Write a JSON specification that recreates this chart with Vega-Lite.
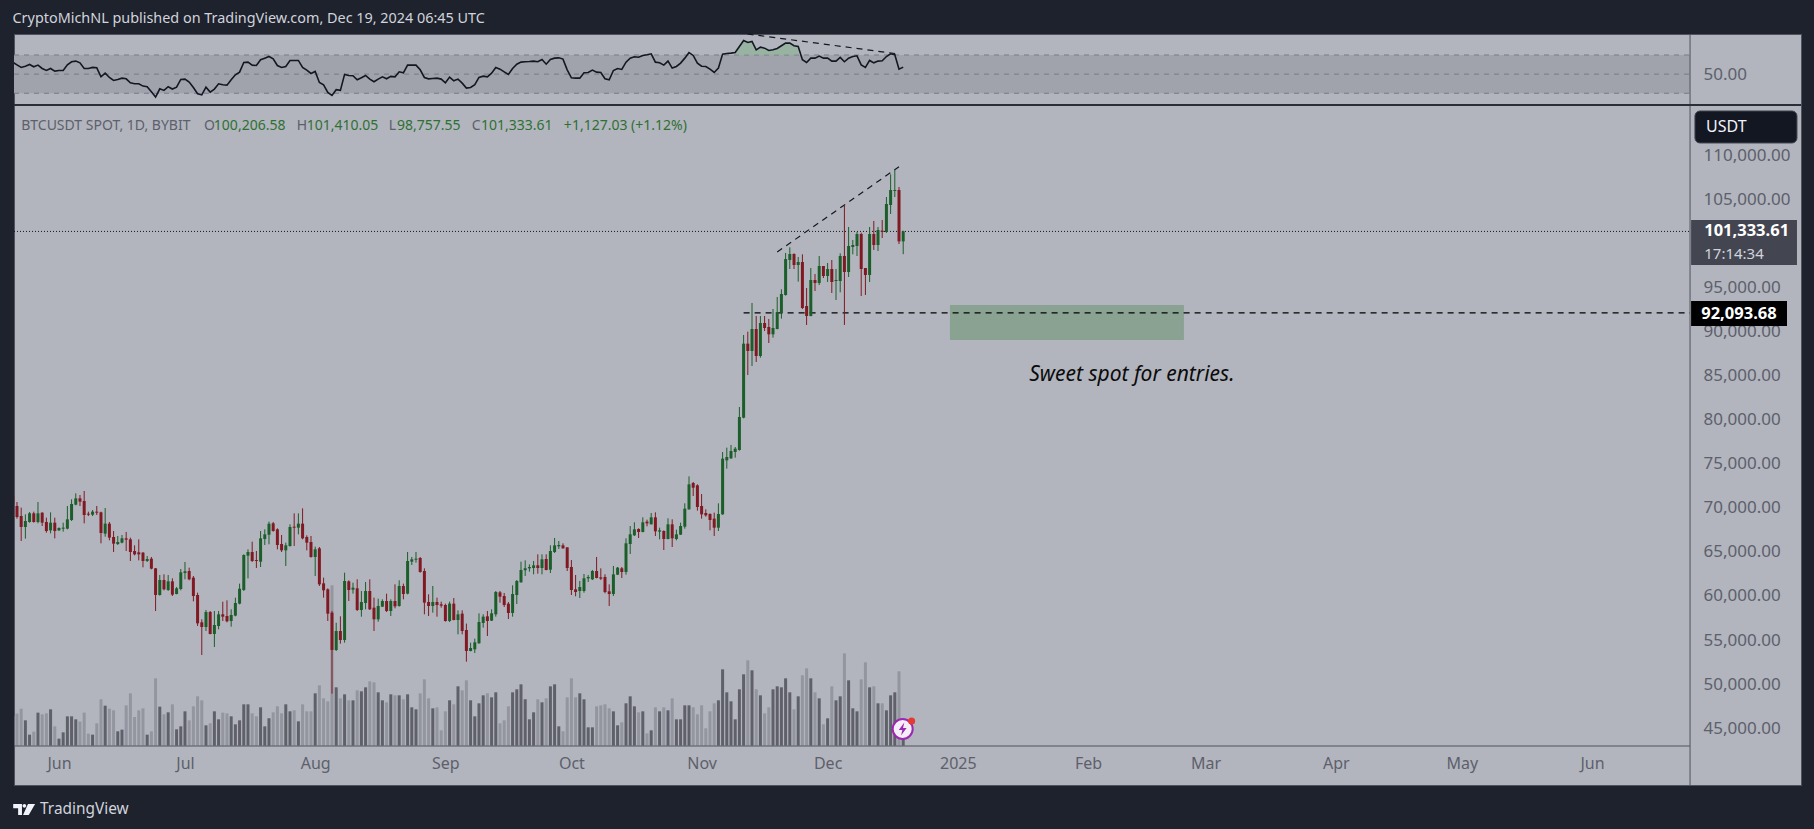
{
"$schema":"https://vega.github.io/schema/vega-lite/v6.json",
"background":"#1e222d",
"padding":{"left":12,"right":15,"top":10,"bottom":17},
"title":{"text":"CryptoMichNL published on TradingView.com, Dec 19, 2024 06:45 UTC","anchor":"start","color":"#d1d4dc","font":"Noto Sans","fontSize":14.4,"fontWeight":"normal","offset":7},
"spacing":-3,
"config":{"view":{"fill":"#b2b5be","stroke":"#50535e"},"text":{"font":"Noto Sans"},"axis":{"labelFont":"Noto Sans","labelFontSize":17,"labelColor":"#5d606b","domain":false,"ticks":false,"grid":false,"title":null}},
"datasets":{"candles":[
{"d":"2024-05-21","o":71337,"h":71526,"l":70393,"c":70393,"v":90,"r":62.5},
{"d":"2024-05-22","o":70204,"h":70657,"l":68768,"c":68957,"v":96,"r":59.7},
{"d":"2024-05-23","o":69070,"h":70015,"l":66236,"c":67823,"v":111,"r":57.0},
{"d":"2024-05-24","o":67823,"h":69259,"l":66501,"c":68503,"v":76,"r":58.3},
{"d":"2024-05-25","o":68390,"h":69524,"l":68314,"c":69372,"v":33,"r":60.1},
{"d":"2024-05-26","o":69372,"h":69561,"l":68314,"c":68390,"v":42,"r":57.7},
{"d":"2024-05-27","o":68390,"h":70657,"l":68238,"c":69372,"v":99,"r":59.4},
{"d":"2024-05-28","o":69448,"h":69486,"l":67936,"c":68314,"v":94,"r":55.9},
{"d":"2024-05-29","o":68390,"h":68881,"l":67180,"c":67369,"v":97,"r":53.8},
{"d":"2024-05-30","o":67445,"h":69486,"l":67104,"c":68314,"v":109,"r":55.9},
{"d":"2024-05-31","o":68314,"h":68881,"l":66538,"c":67369,"v":58,"r":53.1},
{"d":"2024-06-01","o":67445,"h":67785,"l":67369,"c":67709,"v":21,"r":53.8},
{"d":"2024-06-02","o":67634,"h":68314,"l":67293,"c":67747,"v":40,"r":53.8},
{"d":"2024-06-03","o":67634,"h":70204,"l":67558,"c":68692,"v":88,"r":59.7},
{"d":"2024-06-04","o":68617,"h":70959,"l":68503,"c":70431,"v":88,"r":62.9},
{"d":"2024-06-05","o":70355,"h":71639,"l":70280,"c":71072,"v":79,"r":63.6},
{"d":"2024-06-06","o":71072,"h":71450,"l":70204,"c":70694,"v":72,"r":61.8},
{"d":"2024-06-07","o":70770,"h":71904,"l":68238,"c":69183,"v":99,"r":55.9},
{"d":"2024-06-08","o":69335,"h":69561,"l":69070,"c":69221,"v":36,"r":55.9},
{"d":"2024-06-09","o":69221,"h":69750,"l":69070,"c":69561,"v":33,"r":57.0},
{"d":"2024-06-10","o":69561,"h":70204,"l":69183,"c":69448,"v":67,"r":56.6},
{"d":"2024-06-11","o":69486,"h":69561,"l":65971,"c":67142,"v":139,"r":47.2},
{"d":"2024-06-12","o":67066,"h":69977,"l":66727,"c":68201,"v":120,"r":51.0},
{"d":"2024-06-13","o":68201,"h":68390,"l":66312,"c":66614,"v":111,"r":46.5},
{"d":"2024-06-14","o":66690,"h":67369,"l":64989,"c":65934,"v":106,"r":43.4},
{"d":"2024-06-15","o":65896,"h":66803,"l":65782,"c":66123,"v":43,"r":44.4},
{"d":"2024-06-16","o":66047,"h":66916,"l":65971,"c":66538,"v":48,"r":45.8},
{"d":"2024-06-17","o":66538,"h":67256,"l":65102,"c":66387,"v":121,"r":45.1},
{"d":"2024-06-18","o":66425,"h":66614,"l":63968,"c":64989,"v":157,"r":41.0},
{"d":"2024-06-19","o":65102,"h":65745,"l":64611,"c":64724,"v":86,"r":39.9},
{"d":"2024-06-20","o":64951,"h":66425,"l":64044,"c":64724,"v":106,"r":39.9},
{"d":"2024-06-21","o":64913,"h":64989,"l":63251,"c":63968,"v":112,"r":37.5},
{"d":"2024-06-22","o":63968,"h":64535,"l":63854,"c":64195,"v":33,"r":36.8},
{"d":"2024-06-23","o":64233,"h":64422,"l":63024,"c":63100,"v":43,"r":31.6},
{"d":"2024-06-24","o":63137,"h":63175,"l":58300,"c":60113,"v":202,"r":26.0},
{"d":"2024-06-25","o":60113,"h":62381,"l":60037,"c":61814,"v":117,"r":34.7},
{"d":"2024-06-26","o":61814,"h":62457,"l":60643,"c":60756,"v":94,"r":33.0},
{"d":"2024-06-27","o":60680,"h":62381,"l":60567,"c":61663,"v":100,"r":36.8},
{"d":"2024-06-28","o":61663,"h":62003,"l":60000,"c":60151,"v":124,"r":34.4},
{"d":"2024-06-29","o":60227,"h":61021,"l":60189,"c":60870,"v":49,"r":36.4},
{"d":"2024-06-30","o":60794,"h":63062,"l":60643,"c":62684,"v":58,"r":44.4},
{"d":"2024-07-01","o":62608,"h":63856,"l":61890,"c":62797,"v":103,"r":44.8},
{"d":"2024-07-02","o":62835,"h":63213,"l":61777,"c":61890,"v":76,"r":41.7},
{"d":"2024-07-03","o":62079,"h":62268,"l":59396,"c":60000,"v":118,"r":36.1},
{"d":"2024-07-04","o":60113,"h":60378,"l":56599,"c":56901,"v":148,"r":29.5},
{"d":"2024-07-05","o":57015,"h":57355,"l":53311,"c":56485,"v":136,"r":28.4},
{"d":"2024-07-06","o":56485,"h":58413,"l":56032,"c":58187,"v":61,"r":36.4},
{"d":"2024-07-07","o":58187,"h":58300,"l":55655,"c":55693,"v":67,"r":31.2},
{"d":"2024-07-08","o":55693,"h":58300,"l":54219,"c":56712,"v":103,"r":34.4},
{"d":"2024-07-09","o":56599,"h":58300,"l":56221,"c":57922,"v":79,"r":39.9},
{"d":"2024-07-10","o":57922,"h":59358,"l":57166,"c":57657,"v":99,"r":38.9},
{"d":"2024-07-11","o":57733,"h":59510,"l":57015,"c":57128,"v":97,"r":38.5},
{"d":"2024-07-12","o":57166,"h":58489,"l":56523,"c":57846,"v":88,"r":44.1},
{"d":"2024-07-13","o":57771,"h":59812,"l":57695,"c":59207,"v":64,"r":49.3},
{"d":"2024-07-14","o":59132,"h":61399,"l":59056,"c":60832,"v":76,"r":52.1},
{"d":"2024-07-15","o":60680,"h":64724,"l":60567,"c":64649,"v":124,"r":62.2},
{"d":"2024-07-16","o":64573,"h":65291,"l":62003,"c":64989,"v":124,"r":62.5},
{"d":"2024-07-17","o":64989,"h":66160,"l":63854,"c":63968,"v":97,"r":59.4},
{"d":"2024-07-18","o":64082,"h":65102,"l":63175,"c":63968,"v":88,"r":59.0},
{"d":"2024-07-19","o":63892,"h":67369,"l":63289,"c":66538,"v":115,"r":65.0},
{"d":"2024-07-20","o":66463,"h":67558,"l":65782,"c":66992,"v":58,"r":66.7},
{"d":"2024-07-21","o":66954,"h":68428,"l":65858,"c":68201,"v":82,"r":68.4},
{"d":"2024-07-22","o":68238,"h":68390,"l":67293,"c":67369,"v":100,"r":66.0},
{"d":"2024-07-23","o":67558,"h":67671,"l":65291,"c":65782,"v":118,"r":59.0},
{"d":"2024-07-24","o":65896,"h":66916,"l":64989,"c":65178,"v":97,"r":57.0},
{"d":"2024-07-25","o":65178,"h":66047,"l":63402,"c":65745,"v":124,"r":58.0},
{"d":"2024-07-26","o":65669,"h":68125,"l":65593,"c":67823,"v":103,"r":64.3},
{"d":"2024-07-27","o":67860,"h":69372,"l":65669,"c":67747,"v":106,"r":64.3},
{"d":"2024-07-28","o":67747,"h":69372,"l":66992,"c":68201,"v":73,"r":64.3},
{"d":"2024-07-29","o":68201,"h":69939,"l":66425,"c":66538,"v":124,"r":57.0},
{"d":"2024-07-30","o":66690,"h":66879,"l":65178,"c":66047,"v":103,"r":54.2},
{"d":"2024-07-31","o":66123,"h":66803,"l":64346,"c":64422,"v":103,"r":50.7},
{"d":"2024-08-01","o":64422,"h":65593,"l":62268,"c":65291,"v":157,"r":52.8},
{"d":"2024-08-02","o":65404,"h":65556,"l":61134,"c":61323,"v":181,"r":41.3},
{"d":"2024-08-03","o":61436,"h":62079,"l":59812,"c":60643,"v":142,"r":38.9},
{"d":"2024-08-04","o":60756,"h":60870,"l":57166,"c":57998,"v":133,"r":30.9},
{"d":"2024-08-05","o":58111,"h":58300,"l":48928,"c":53878,"v":481,"r":27.8},
{"d":"2024-08-06","o":53878,"h":56977,"l":53765,"c":56033,"v":175,"r":33.7},
{"d":"2024-08-07","o":56033,"h":57695,"l":54597,"c":55012,"v":142,"r":33.0},
{"d":"2024-08-08","o":55012,"h":62646,"l":54710,"c":61701,"v":154,"r":49.7},
{"d":"2024-08-09","o":61663,"h":61777,"l":59434,"c":60680,"v":136,"r":48.6},
{"d":"2024-08-10","o":60718,"h":61512,"l":60265,"c":60945,"v":136,"r":48.3},
{"d":"2024-08-11","o":60870,"h":61890,"l":58300,"c":58413,"v":166,"r":44.1},
{"d":"2024-08-12","o":58413,"h":60567,"l":57657,"c":59321,"v":163,"r":46.2},
{"d":"2024-08-13","o":59207,"h":61588,"l":58489,"c":60567,"v":175,"r":48.6},
{"d":"2024-08-14","o":60567,"h":61890,"l":58413,"c":58489,"v":193,"r":44.8},
{"d":"2024-08-15","o":58678,"h":59812,"l":56033,"c":57355,"v":190,"r":42.0},
{"d":"2024-08-16","o":57355,"h":59698,"l":57090,"c":58867,"v":160,"r":44.8},
{"d":"2024-08-17","o":58791,"h":59623,"l":58754,"c":59434,"v":136,"r":47.2},
{"d":"2024-08-18","o":59434,"h":60265,"l":58187,"c":58300,"v":130,"r":45.1},
{"d":"2024-08-19","o":58300,"h":59623,"l":57733,"c":59434,"v":154,"r":47.6},
{"d":"2024-08-20","o":59434,"h":61323,"l":58602,"c":58829,"v":151,"r":47.2},
{"d":"2024-08-21","o":58867,"h":61777,"l":58791,"c":61134,"v":151,"r":52.4},
{"d":"2024-08-22","o":61134,"h":61399,"l":59623,"c":60227,"v":139,"r":51.4},
{"d":"2024-08-23","o":60265,"h":64989,"l":60189,"c":63968,"v":154,"r":59.4},
{"d":"2024-08-24","o":63892,"h":64422,"l":63516,"c":64157,"v":115,"r":59.4},
{"d":"2024-08-25","o":64119,"h":64989,"l":63772,"c":64233,"v":109,"r":59.4},
{"d":"2024-08-26","o":64309,"h":64422,"l":62646,"c":62722,"v":157,"r":54.5},
{"d":"2024-08-27","o":62835,"h":63137,"l":57922,"c":59245,"v":199,"r":46.5},
{"d":"2024-08-28","o":59321,"h":60189,"l":57733,"c":58867,"v":142,"r":45.1},
{"d":"2024-08-29","o":58867,"h":61134,"l":58111,"c":59321,"v":112,"r":45.5},
{"d":"2024-08-30","o":59321,"h":59812,"l":57657,"c":58980,"v":115,"r":45.8},
{"d":"2024-08-31","o":59056,"h":59358,"l":58678,"c":58905,"v":46,"r":44.8},
{"d":"2024-09-01","o":58980,"h":59132,"l":57090,"c":57166,"v":103,"r":41.0},
{"d":"2024-09-02","o":57166,"h":59358,"l":57053,"c":59132,"v":136,"r":46.9},
{"d":"2024-09-03","o":59132,"h":59774,"l":57242,"c":57279,"v":124,"r":43.0},
{"d":"2024-09-04","o":57279,"h":58376,"l":55655,"c":57922,"v":178,"r":44.8},
{"d":"2024-09-05","o":57998,"h":58376,"l":55655,"c":56033,"v":166,"r":40.6},
{"d":"2024-09-06","o":56146,"h":56872,"l":52555,"c":53765,"v":196,"r":35.4},
{"d":"2024-09-07","o":53765,"h":54710,"l":53727,"c":54105,"v":136,"r":36.1},
{"d":"2024-09-08","o":53954,"h":55164,"l":53538,"c":54748,"v":88,"r":38.9},
{"d":"2024-09-09","o":54634,"h":58036,"l":54597,"c":57053,"v":127,"r":46.5},
{"d":"2024-09-10","o":56940,"h":57922,"l":56411,"c":57657,"v":151,"r":47.9},
{"d":"2024-09-11","o":57695,"h":58300,"l":55466,"c":57166,"v":157,"r":47.2},
{"d":"2024-09-12","o":57204,"h":58489,"l":57166,"c":58036,"v":145,"r":51.0},
{"d":"2024-09-13","o":57922,"h":60567,"l":57657,"c":60454,"v":160,"r":57.0},
{"d":"2024-09-14","o":60416,"h":60567,"l":59245,"c":59925,"v":67,"r":55.2},
{"d":"2024-09-15","o":60000,"h":60340,"l":58754,"c":58980,"v":76,"r":52.4},
{"d":"2024-09-16","o":59132,"h":59321,"l":57393,"c":58073,"v":118,"r":49.7},
{"d":"2024-09-17","o":58073,"h":61210,"l":57657,"c":60227,"v":160,"r":55.9},
{"d":"2024-09-18","o":60113,"h":61814,"l":59094,"c":61701,"v":169,"r":60.4},
{"d":"2024-09-19","o":61550,"h":63892,"l":61512,"c":62948,"v":184,"r":62.5},
{"d":"2024-09-20","o":62911,"h":64044,"l":62268,"c":63137,"v":139,"r":62.9},
{"d":"2024-09-21","o":63137,"h":63590,"l":62760,"c":63289,"v":79,"r":63.2},
{"d":"2024-09-22","o":63175,"h":63968,"l":62457,"c":63478,"v":100,"r":63.6},
{"d":"2024-09-23","o":63478,"h":64724,"l":62533,"c":63175,"v":139,"r":62.9},
{"d":"2024-09-24","o":63175,"h":64724,"l":62457,"c":64157,"v":130,"r":65.3},
{"d":"2024-09-25","o":64195,"h":64724,"l":62911,"c":62948,"v":142,"r":60.4},
{"d":"2024-09-26","o":62986,"h":65745,"l":62608,"c":65102,"v":178,"r":65.3},
{"d":"2024-09-27","o":64989,"h":66576,"l":64875,"c":65745,"v":184,"r":66.7},
{"d":"2024-09-28","o":65631,"h":66236,"l":65329,"c":65782,"v":58,"r":67.0},
{"d":"2024-09-29","o":65745,"h":65971,"l":65367,"c":65404,"v":43,"r":65.7},
{"d":"2024-09-30","o":65518,"h":65518,"l":62835,"c":63175,"v":145,"r":54.5},
{"d":"2024-10-01","o":63289,"h":64082,"l":60113,"c":60680,"v":202,"r":46.2},
{"d":"2024-10-02","o":60756,"h":62381,"l":59963,"c":60454,"v":145,"r":45.8},
{"d":"2024-10-03","o":60567,"h":61701,"l":59774,"c":61021,"v":157,"r":45.8},
{"d":"2024-10-04","o":60567,"h":62495,"l":60378,"c":62003,"v":139,"r":51.4},
{"d":"2024-10-05","o":62003,"h":62381,"l":61588,"c":62154,"v":55,"r":51.7},
{"d":"2024-10-06","o":61890,"h":62948,"l":61814,"c":62835,"v":55,"r":54.2},
{"d":"2024-10-07","o":62835,"h":64422,"l":62003,"c":62041,"v":118,"r":52.1},
{"d":"2024-10-08","o":62117,"h":63137,"l":61814,"c":61966,"v":121,"r":51.7},
{"d":"2024-10-09","o":62154,"h":62457,"l":60302,"c":60454,"v":124,"r":45.1},
{"d":"2024-10-10","o":60529,"h":61323,"l":58867,"c":60227,"v":112,"r":44.1},
{"d":"2024-10-11","o":60227,"h":63402,"l":60000,"c":62457,"v":103,"r":53.8},
{"d":"2024-10-12","o":62419,"h":63289,"l":62381,"c":63213,"v":61,"r":55.9},
{"d":"2024-10-13","o":63137,"h":63289,"l":62041,"c":62722,"v":70,"r":54.9},
{"d":"2024-10-14","o":62722,"h":66538,"l":62419,"c":65971,"v":127,"r":62.5},
{"d":"2024-10-15","o":65896,"h":67936,"l":64762,"c":66992,"v":148,"r":66.7},
{"d":"2024-10-16","o":66879,"h":68352,"l":66803,"c":67558,"v":118,"r":68.1},
{"d":"2024-10-17","o":67596,"h":67671,"l":66576,"c":67256,"v":100,"r":67.7},
{"d":"2024-10-18","o":67256,"h":68919,"l":67218,"c":68352,"v":103,"r":69.5},
{"d":"2024-10-19","o":68428,"h":68655,"l":67898,"c":68238,"v":37,"r":70.2},
{"d":"2024-10-20","o":68125,"h":69410,"l":68125,"c":68919,"v":46,"r":71.2},
{"d":"2024-10-21","o":68919,"h":69486,"l":66803,"c":67331,"v":115,"r":62.5},
{"d":"2024-10-22","o":67293,"h":67747,"l":66425,"c":67445,"v":103,"r":61.8},
{"d":"2024-10-23","o":67369,"h":67445,"l":65215,"c":66463,"v":115,"r":59.4},
{"d":"2024-10-24","o":66463,"h":68806,"l":66425,"c":68125,"v":106,"r":63.6},
{"d":"2024-10-25","o":68125,"h":68692,"l":65556,"c":66538,"v":142,"r":56.3},
{"d":"2024-10-26","o":66463,"h":67520,"l":66312,"c":66992,"v":79,"r":58.0},
{"d":"2024-10-27","o":66954,"h":68314,"l":66916,"c":67936,"v":79,"r":61.5},
{"d":"2024-10-28","o":67860,"h":70506,"l":67634,"c":69902,"v":121,"r":66.7},
{"d":"2024-10-29","o":69826,"h":73567,"l":69788,"c":72660,"v":121,"r":72.6},
{"d":"2024-10-30","o":72811,"h":72925,"l":71337,"c":72282,"v":115,"r":69.5},
{"d":"2024-10-31","o":72547,"h":72660,"l":69675,"c":70091,"v":94,"r":61.5},
{"d":"2024-11-01","o":70204,"h":71564,"l":68768,"c":69259,"v":121,"r":58.3},
{"d":"2024-11-02","o":69410,"h":69826,"l":68994,"c":69145,"v":52,"r":58.0},
{"d":"2024-11-03","o":69297,"h":69372,"l":67445,"c":68617,"v":103,"r":55.2},
{"d":"2024-11-04","o":68768,"h":69448,"l":66803,"c":67747,"v":127,"r":51.7},
{"d":"2024-11-05","o":67747,"h":70506,"l":67369,"c":69297,"v":136,"r":56.3},
{"d":"2024-11-06","o":69259,"h":76327,"l":69200,"c":75571,"v":229,"r":70.9},
{"d":"2024-11-07","o":75382,"h":76818,"l":74437,"c":75760,"v":160,"r":71.6},
{"d":"2024-11-08","o":75610,"h":77121,"l":75533,"c":76440,"v":133,"r":71.9},
{"d":"2024-11-09","o":76327,"h":76894,"l":75685,"c":76705,"v":79,"r":72.6},
{"d":"2024-11-10","o":76553,"h":81428,"l":76478,"c":80295,"v":169,"r":78.9},
{"d":"2024-11-11","o":80219,"h":89591,"l":80144,"c":88609,"v":214,"r":85.1},
{"d":"2024-11-12","o":88611,"h":89971,"l":85058,"c":87779,"v":256,"r":83.0},
{"d":"2024-11-13","o":87779,"h":93221,"l":86079,"c":90274,"v":226,"r":84.1},
{"d":"2024-11-14","o":90274,"h":91747,"l":86533,"c":87213,"v":169,"r":75.4},
{"d":"2024-11-15","o":87213,"h":91747,"l":87024,"c":90954,"v":151,"r":78.2},
{"d":"2024-11-16","o":90954,"h":91747,"l":90047,"c":90387,"v":97,"r":77.1},
{"d":"2024-11-17","o":90500,"h":91407,"l":88686,"c":89669,"v":115,"r":74.7},
{"d":"2024-11-18","o":89669,"h":92541,"l":89291,"c":90387,"v":169,"r":75.4},
{"d":"2024-11-19","o":90274,"h":93901,"l":90236,"c":92201,"v":178,"r":76.8},
{"d":"2024-11-20","o":92087,"h":94771,"l":91445,"c":94242,"v":175,"r":79.6},
{"d":"2024-11-21","o":94128,"h":98890,"l":94052,"c":98210,"v":202,"r":82.4},
{"d":"2024-11-22","o":98096,"h":99532,"l":97076,"c":98776,"v":160,"r":82.4},
{"d":"2024-11-23","o":98776,"h":98852,"l":97076,"c":97529,"v":109,"r":79.6},
{"d":"2024-11-24","o":97529,"h":98436,"l":95640,"c":97869,"v":148,"r":78.9},
{"d":"2024-11-25","o":97869,"h":98738,"l":92541,"c":92654,"v":211,"r":65.0},
{"d":"2024-11-26","o":92881,"h":94922,"l":90727,"c":91747,"v":232,"r":62.2},
{"d":"2024-11-27","o":91747,"h":97189,"l":91709,"c":95829,"v":202,"r":66.7},
{"d":"2024-11-28","o":95829,"h":96509,"l":94582,"c":95488,"v":160,"r":66.7},
{"d":"2024-11-29","o":95488,"h":98550,"l":95262,"c":97416,"v":142,"r":68.8},
{"d":"2024-11-30","o":97416,"h":97416,"l":96055,"c":96282,"v":64,"r":66.7},
{"d":"2024-12-01","o":96282,"h":97756,"l":95602,"c":97076,"v":82,"r":66.7},
{"d":"2024-12-02","o":97076,"h":98096,"l":94355,"c":95602,"v":178,"r":63.6},
{"d":"2024-12-03","o":95715,"h":97076,"l":93561,"c":95829,"v":136,"r":63.6},
{"d":"2024-12-04","o":95715,"h":98852,"l":94430,"c":98550,"v":148,"r":67.4},
{"d":"2024-12-05","o":98550,"h":104294,"l":90727,"c":96736,"v":277,"r":62.9},
{"d":"2024-12-06","o":96736,"h":101837,"l":96169,"c":99683,"v":196,"r":66.7},
{"d":"2024-12-07","o":99570,"h":100364,"l":98738,"c":99796,"v":112,"r":68.4},
{"d":"2024-12-08","o":99683,"h":101271,"l":98550,"c":101044,"v":103,"r":69.1},
{"d":"2024-12-09","o":101044,"h":101195,"l":94015,"c":97076,"v":199,"r":59.7},
{"d":"2024-12-10","o":97189,"h":97189,"l":94128,"c":96396,"v":250,"r":57.0},
{"d":"2024-12-11","o":96396,"h":101837,"l":95602,"c":101044,"v":175,"r":64.3},
{"d":"2024-12-12","o":101044,"h":102517,"l":99230,"c":99796,"v":178,"r":61.8},
{"d":"2024-12-13","o":99796,"h":101837,"l":99116,"c":101497,"v":127,"r":63.6},
{"d":"2024-12-14","o":101422,"h":102631,"l":100590,"c":101270,"v":127,"r":63.9},
{"d":"2024-12-15","o":101270,"h":105238,"l":101157,"c":104445,"v":106,"r":68.4},
{"d":"2024-12-16","o":104331,"h":107808,"l":103311,"c":106032,"v":151,"r":71.2},
{"d":"2024-12-17","o":105919,"h":108375,"l":105238,"c":106032,"v":160,"r":70.2},
{"d":"2024-12-18","o":106032,"h":106372,"l":99910,"c":100206,"v":223,"r":55.2},
{"d":"2024-12-19","o":100206.58,"h":101410.05,"l":98757.55,"c":101333.61,"v":80,"r":57.3}
]},
"vconcat":[
{"width":1787,"height":70,
"view":{"fill":"#b2b5be","stroke":"#50535e"},
"layer":[
{"data":{"values":[{"a":"2024-05-21T07:00:00Z","b":"2025-06-24T08:00:00Z","lo":30,"hi":70}]},
"mark":{"type":"rect","fill":"#a0a3ab"},
"encoding":{"x":{"field":"a","type":"temporal","scale":{"type":"utc","domain":[{"year":2024,"month":5,"date":21,"hours":7,"utc":true},{"year":2025,"month":7,"date":20,"hours":18,"utc":true}]},"axis":null},"x2":{"field":"b"},
"y":{"field":"lo","type":"quantitative","scale":{"domain":[18.8,91.9],"nice":false,"zero":false},"axis":{"orient":"right","offset":-111,"values":[50],"format":".2f","labelAlign":"left","labelPadding":13}},"y2":{"field":"hi"}}},
{"data":{"values":[{"a":"2024-05-21T07:00:00Z","b":"2025-06-24T08:00:00Z","lvl":70},{"a":"2024-05-21T07:00:00Z","b":"2025-06-24T08:00:00Z","lvl":50},{"a":"2024-05-21T07:00:00Z","b":"2025-06-24T08:00:00Z","lvl":30}]},
"mark":{"type":"rule","color":"#787b86","strokeWidth":1,"strokeDash":[5,5]},
"encoding":{"x":{"field":"a","type":"temporal"},"x2":{"field":"b"},"y":{"field":"lvl","type":"quantitative"}}},
{"data":{"name":"candles"},
"transform":[{"filter":{"field":"d","range":[{"year":2024,"month":11,"date":9,"utc":true},{"year":2024,"month":11,"date":24,"utc":true}]}}],
"mark":{"type":"area","color":"#7fb287","opacity":0.5},
"encoding":{"x":{"field":"d","type":"temporal"},"y":{"field":"r","type":"quantitative"},"y2":{"datum":70}}},
{"data":{"name":"candles"},
"mark":{"type":"line","color":"#131722","strokeWidth":1.6,"clip":true},
"encoding":{"x":{"field":"d","type":"temporal"},"y":{"field":"r","type":"quantitative"}}},
{"data":{"values":[{"a":"2024-11-11T22:00:00Z","b":"2024-12-18T00:00:00Z","p":91.9,"q":71}]},
"mark":{"type":"rule","color":"#131722","strokeWidth":1.2,"strokeDash":[6,5]},
"encoding":{"x":{"field":"a","type":"temporal"},"x2":{"field":"b"},"y":{"field":"p","type":"quantitative"},"y2":{"field":"q"}}},
{"data":{"values":[{"a":"2025-06-24T08:00:00Z"}]},
"mark":{"type":"rule","color":"#50535e"},
"encoding":{"x":{"field":"a","type":"temporal"}}}
]},
{"width":1787,"height":680,
"view":{"fill":"#b2b5be","stroke":"#50535e"},
"layer":[
{"data":{"name":"candles"},
"mark":{"type":"bar","size":3,"clip":true},
"encoding":{"x":{"field":"d","type":"temporal","scale":{"type":"utc","padding":0,"domain":[{"year":2024,"month":5,"date":21,"hours":7,"utc":true},{"year":2025,"month":7,"date":20,"hours":18,"utc":true}]},"axis":{"orient":"bottom","offset":-39,"values":[{"year":2024,"month":6,"date":1,"utc":true},{"year":2024,"month":7,"date":1,"utc":true},{"year":2024,"month":8,"date":1,"utc":true},{"year":2024,"month":9,"date":1,"utc":true},{"year":2024,"month":10,"date":1,"utc":true},{"year":2024,"month":11,"date":1,"utc":true},{"year":2024,"month":12,"date":1,"utc":true},{"year":2025,"month":1,"date":1,"utc":true},{"year":2025,"month":2,"date":1,"utc":true},{"year":2025,"month":3,"date":1,"utc":true},{"year":2025,"month":4,"date":1,"utc":true},{"year":2025,"month":5,"date":1,"utc":true},{"year":2025,"month":6,"date":1,"utc":true}],"labelExpr":"utcFormat(datum.value,'%b')=='Jan'?'2025':utcFormat(datum.value,'%b')","labelFontSize":16,"labelPadding":9,"labelFlush":false,"labelOverlap":false}},
"y":{"field":"v","type":"quantitative","scale":{"domain":[-118,1922],"nice":false,"zero":false},"axis":null},
"color":{"condition":{"test":"datum.c>=datum.o","value":"#5f6069"},"value":"#93959f"}}},
{"layer":[
{"data":{"values":[{"a":"2024-12-30T03:00:00Z","b":"2025-02-23T20:00:00Z","p":92993,"q":89025}]},
"mark":{"type":"rect","fill":"#8aa292"},
"encoding":{"x":{"field":"a","type":"temporal"},"x2":{"field":"b"},
"y":{"field":"p","type":"quantitative","scale":{"domain":[38571,115669],"nice":false,"zero":false},"axis":{"orient":"right","offset":-111,"values":[45000,50000,55000,60000,65000,70000,75000,80000,85000,90000,95000,105000,110000],"format":",.2f","labelAlign":"left","labelPadding":13}},"y2":{"field":"q"}}},
{"data":{"values":[{"a":"2024-05-21T07:00:00Z","b":"2025-06-24T08:00:00Z","p":101333.61}]},
"mark":{"type":"rule","color":"#131722","strokeWidth":1,"strokeDash":[1,2]},
"encoding":{"x":{"field":"a","type":"temporal"},"x2":{"field":"b"},"y":{"field":"p","type":"quantitative"}}},
{"data":{"values":[{"a":"2024-11-11T00:00:00Z","b":"2025-06-24T08:00:00Z","p":92093.68}]},
"mark":{"type":"rule","color":"#000000","strokeWidth":1.2,"strokeDash":[6,5]},
"encoding":{"x":{"field":"a","type":"temporal"},"x2":{"field":"b"},"y":{"field":"p","type":"quantitative"}}},
{"data":{"values":[{"a":"2024-11-19T00:00:00Z","b":"2024-12-18T00:00:00Z","p":99002,"q":108673}]},
"mark":{"type":"rule","color":"#131722","strokeWidth":1.2,"strokeDash":[6,5]},
"encoding":{"x":{"field":"a","type":"temporal"},"x2":{"field":"b"},"y":{"field":"p","type":"quantitative"},"y2":{"field":"q"}}},
{"data":{"name":"candles"},
"mark":{"type":"rule","strokeWidth":1,"clip":true},
"encoding":{"x":{"field":"d","type":"temporal"},"y":{"field":"l","type":"quantitative"},"y2":{"field":"h"},
"color":{"condition":{"test":"datum.c>=datum.o","value":"#1b5e2a"},"value":"#801922"}}},
{"data":{"name":"candles"},
"mark":{"type":"bar","size":3,"clip":true},
"encoding":{"x":{"field":"d","type":"temporal"},"y":{"field":"o","type":"quantitative"},"y2":{"field":"c"},
"color":{"condition":{"test":"datum.c>=datum.o","value":"#1b5e2a"},"value":"#801922"}}},
{"data":{"values":[{"a":"2024-05-21T07:00:00Z","b":"2025-06-24T08:00:00Z","p":42992}]},
"mark":{"type":"rule","color":"#50535e","strokeWidth":1},
"encoding":{"x":{"field":"a","type":"temporal"},"x2":{"field":"b"},"y":{"field":"p","type":"quantitative"}}},
{"data":{"values":[{"a":"2025-06-24T08:00:00Z"}]},
"mark":{"type":"rule","color":"#50535e"},
"encoding":{"x":{"field":"a","type":"temporal"}}},
{"data":{"values":[{"a":"2024-05-21T07:00:00Z","b":"2025-07-20T18:00:00Z","p":115669}]},
"mark":{"type":"rule","color":"#2a2e39","strokeWidth":2},
"encoding":{"x":{"field":"a","type":"temporal"},"x2":{"field":"b"},"y":{"field":"p","type":"quantitative"}}},
{"data":{"values":[{"a":"2025-01-18T00:00:00Z","p":85056,"t":"Sweet spot for entries."}]},
"mark":{"type":"text","align":"left","baseline":"middle","fontStyle":"italic","fontSize":21,"color":"#0b0b0b","font":"Noto Sans"},
"encoding":{"x":{"field":"a","type":"temporal"},"y":{"field":"p","type":"quantitative"},"text":{"field":"t"}}},
{"data":{"values":[{"a":"2024-05-23T00:00:00Z","p":113288,"t":"BTCUSDT SPOT, 1D, BYBIT"},{"a":"2024-07-05T12:00:00Z","p":113288,"t":"O"},{"a":"2024-07-27T15:00:00Z","p":113288,"t":"H"},{"a":"2024-08-18T13:00:00Z","p":113288,"t":"L"},{"a":"2024-09-07T07:00:00Z","p":113288,"t":"C"}]},
"mark":{"type":"text","align":"left","baseline":"middle","fontSize":14,"color":"#5d606b"},
"encoding":{"x":{"field":"a","type":"temporal"},"y":{"field":"p","type":"quantitative"},"text":{"field":"t"}}},
{"data":{"values":[{"a":"2024-07-07T21:00:00Z","p":113288,"t":"100,206.58"},{"a":"2024-07-30T00:00:00Z","p":113288,"t":"101,410.05"},{"a":"2024-08-20T11:00:00Z","p":113288,"t":"98,757.55"},{"a":"2024-09-09T11:00:00Z","p":113288,"t":"101,333.61"},{"a":"2024-09-29T05:00:00Z","p":113288,"t":"+1,127.03 (+1.12%)"}]},
"mark":{"type":"text","align":"left","baseline":"middle","fontSize":14,"color":"#2e7032"},
"encoding":{"x":{"field":"a","type":"temporal"},"y":{"field":"p","type":"quantitative"},"text":{"field":"t"}}},
{"data":{"values":[{"a":"2025-06-25T12:00:00Z","b":"2025-07-19T19:00:00Z","p":114989,"q":111361}]},
"mark":{"type":"rect","fill":"#131722","stroke":"#434651","cornerRadius":5},
"encoding":{"x":{"field":"a","type":"temporal"},"x2":{"field":"b"},"y":{"field":"p","type":"quantitative"},"y2":{"field":"q"}}},
{"data":{"values":[{"a":"2025-06-24T14:00:00Z","b":"2025-07-19T19:00:00Z","p":102630,"q":97528}]},
"mark":{"type":"rect","fill":"#434651"},
"encoding":{"x":{"field":"a","type":"temporal"},"x2":{"field":"b"},"y":{"field":"p","type":"quantitative"},"y2":{"field":"q"}}},
{"data":{"values":[{"a":"2025-06-24T14:00:00Z","b":"2025-07-17T10:00:00Z","p":93447,"q":90612}]},
"mark":{"type":"rect","fill":"#000000"},
"encoding":{"x":{"field":"a","type":"temporal"},"x2":{"field":"b"},"y":{"field":"p","type":"quantitative"},"y2":{"field":"q"}}},
{"data":{"values":[{"a":"2025-06-28T03:00:00Z","p":113175,"t":"USDT"}]},
"mark":{"type":"text","align":"left","baseline":"middle","fontSize":16,"color":"#f0f3fa"},
"encoding":{"x":{"field":"a","type":"temporal"},"y":{"field":"p","type":"quantitative"},"text":{"field":"t"}}},
{"data":{"values":[{"a":"2025-06-27T17:00:00Z","p":101400,"t":"101,333.61"},{"a":"2025-06-27T00:00:00Z","p":91972,"t":"92,093.68"}]},
"mark":{"type":"text","align":"left","baseline":"middle","fontSize":16.5,"fontWeight":"bold","color":"#ffffff"},
"encoding":{"x":{"field":"a","type":"temporal"},"y":{"field":"p","type":"quantitative"},"text":{"field":"t"}}},
{"data":{"values":[{"a":"2025-06-27T17:00:00Z","p":98800,"t":"17:14:34"}]},
"mark":{"type":"text","align":"left","baseline":"middle","fontSize":15,"color":"#d1d4dc"},
"encoding":{"x":{"field":"a","type":"temporal"},"y":{"field":"p","type":"quantitative"},"text":{"field":"t"}}},
{"data":{"values":[{"a":"2024-12-18T21:00:00Z","p":44920}]},
"mark":{"type":"point","shape":"circle","filled":true,"size":400,"fill":"#f5eef8","stroke":"#9c27b0","strokeWidth":2,"opacity":1},
"encoding":{"x":{"field":"a","type":"temporal"},"y":{"field":"p","type":"quantitative"}}},
{"data":{"values":[{"a":"2024-12-18T21:00:00Z","p":44920}]},
"mark":{"type":"point","shape":"M0.25,-1L-0.6,0.15L-0.05,0.15L-0.25,1L0.6,-0.15L0.05,-0.15Z","filled":true,"size":170,"fill":"#9c27b0","stroke":null,"opacity":1},
"encoding":{"x":{"field":"a","type":"temporal"},"y":{"field":"p","type":"quantitative"}}},
{"data":{"values":[{"a":"2024-12-21T00:00:00Z","p":45827}]},
"mark":{"type":"point","shape":"circle","filled":true,"size":50,"fill":"#e53935","stroke":null,"opacity":1},
"encoding":{"x":{"field":"a","type":"temporal"},"y":{"field":"p","type":"quantitative"}}},
{"data":{"values":[{"a":"2024-05-23T17:00:00Z","p":35800}]},
"mark":{"type":"point","shape":"M-1,-0.5H-0.2V0.5H-0.55V-0.12H-1Z M0.02,-0.5a0.17,0.17 0 1 0 0.001,0Z M0.35,-0.5H1L0.42,0.5H-0.1Z","filled":true,"size":480,"fill":"#f0f3fa","stroke":null,"opacity":1},
"encoding":{"x":{"field":"a","type":"temporal"},"y":{"field":"p","type":"quantitative"}}},
{"data":{"values":[{"a":"2024-05-27T12:00:00Z","p":35800,"t":"TradingView"}]},
"mark":{"type":"text","align":"left","baseline":"middle","fontSize":15.4,"color":"#d1d4dc"},
"encoding":{"x":{"field":"a","type":"temporal"},"y":{"field":"p","type":"quantitative"},"text":{"field":"t"}}}
]}
],
"resolve":{"scale":{"y":"independent"}}}
]}
